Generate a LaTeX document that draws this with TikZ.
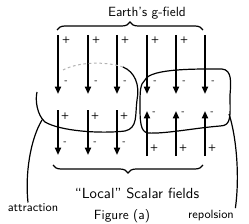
\documentclass[tikz,border=0pt]{standalone}
\usetikzlibrary{arrows.meta,decorations.pathreplacing}

\tikzset{every picture/.style={line width=0.75pt}}
\tikzset{
  fieldarrow/.style={line width=1.3pt,-{Triangle[length=5.5pt,width=4.5pt]}},
  sign/.style={font=\sffamily\scriptsize\bfseries,inner sep=0.75pt},
  hand/.style={font=\sffamily,inner sep=0.75pt},
  curlybrace/.style={decorate,decoration={brace,amplitude=6pt},line width=0.9pt},
  region/.style={line width=0.9pt}
}

\begin{document}
\begin{tikzpicture}[x=0.75pt,y=0.75pt,yscale=-1,xscale=1]
\useasboundingbox (0,0) rectangle (249,224);

%Top row: Earth's field, all pointing down
\foreach \i/\xx in {1/58,2/88,3/117,4/147,5/176,6/205} {
  \coordinate (top\i) at (\xx,35);
  \coordinate (bot\i) at (\xx,94);
  \draw [fieldarrow] (top\i) -- (bot\i);
  \node [sign] (tm\i) at (\xx+8,82) {-};
}
\foreach \i/\xx in {1/58,2/88,3/117,4/147,5/176} {
  \node [sign] (tp\i) at (\xx+8,40) {+};
}

%Bottom row, left: attraction (down)
\foreach \i/\xx in {1/58,2/88,3/117} {
  \coordinate (la\i) at (\xx,110);
  \coordinate (lb\i) at (\xx,155);
  \draw [fieldarrow] (la\i) -- (lb\i);
  \node [sign] (lp\i) at (\xx+7,116) {+};
  \node [sign] (lm\i) at (\xx+7,143) {-};
}
%Bottom row, right: repulsion (up)
\foreach \i/\xx in {4/147,5/176,6/205} {
  \coordinate (ra\i) at (\xx,156);
  \coordinate (rb\i) at (\xx,111);
  \draw [fieldarrow] (ra\i) -- (rb\i);
  \node [sign] (rm\i) at (\xx+7,113) {-};
  \node [sign] (rp\i) at (\xx+7,148) {+};
}

%Braces
\draw [curlybrace] (57,30) -- (203,30);
\draw [curlybrace] (203,165) -- (53,165);

%Left region (attraction)
\draw [gray!60,dash pattern={on 2pt off 2pt}] (63,70) .. controls (78,62) and (105,61) .. (123,67);
\draw [region] (123,67) .. controls (135,72) and (140,85) .. (137,100)
  .. controls (135,115) and (138,128) .. (125,131)
  .. controls (100,134) and (60,131) .. (45,122)
  .. controls (37,115) and (35,100) .. (37,92);
\coordinate (lhook) at (42,120);

%Right region (repulsion)
\draw [region] (145,80) .. controls (150,68) and (200,69) .. (222,69)
  .. controls (232,70) and (231,82) .. (230,95)
  .. controls (230,115) and (232,126) .. (220,126)
  .. controls (195,128) and (165,134) .. (148,133)
  .. controls (140,132) and (140,120) .. (140,105)
  .. controls (140,92) and (140,84) .. (145,80);
\coordinate (rhook) at (229,114);

% Text Node
\node [hand] (earth) at (147,13) {Earth's g-field};
% Text Node
\node [hand,scale=1.1] (local) at (137,193) {``Local'' Scalar fields};
% Text Node
\node [hand,font=\sffamily\small] (attr) at (33,208) {attraction};
% Text Node
\node [hand,font=\sffamily\small] (rep) at (211,215) {repolsion};
% Text Node
\node [hand] (fig) at (122,216) {Figure (a)};

%Leaders to the labels
\draw [region] (lhook) .. controls (30,140) and (25,175) .. (attr.north -| 28,0);
\draw [region] (rhook) .. controls (236,135) and (240,175) .. (rep.north east);

\end{tikzpicture}
\end{document}
